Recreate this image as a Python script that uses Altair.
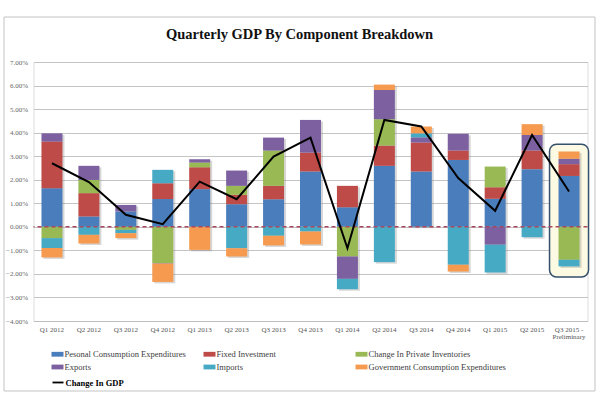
import altair as alt
import pandas as pd

# ---------------- data ----------------
categories = ["Q1 2012", "Q2 2012", "Q3 2012", "Q4 2012", "Q1 2013", "Q2 2013",
              "Q3 2013", "Q4 2013", "Q1 2014", "Q2 2014", "Q3 2014", "Q4 2014",
              "Q1 2015", "Q2 2015", "Q3 2015 - Preliminary"]
components = ["Pesonal Consumption Expenditures", "Fixed Investment",
              "Change In Private Inventories", "Exports", "Imports",
              "Government Consumption Expenditures"]
colors = ["#4A7DBB", "#BE4B48", "#98B954", "#7D60A0", "#46AAC5", "#F59A4E"]

pce         = [1.64, 0.44, 0.65, 1.18, 1.60, 0.96, 1.17, 2.35, 0.83, 2.59, 2.35, 2.84, 1.19, 2.45, 2.16]
fixed_inv   = [1.98, 0.99, 0.00, 0.67, 0.93, 0.40, 0.57, 0.80, 0.91, 0.86, 1.23, 0.40, 0.49, 0.79, 0.50]
inventories = [-0.48, 0.56, -0.13, -1.54, 0.20, 0.38, 1.50, 0.00, -1.26, 1.12, 0.00, 0.00, 0.88, 0.00, -1.40]
exports     = [0.35, 0.60, 0.28, -0.02, 0.14, 0.65, 0.55, 1.39, -0.95, 1.24, 0.22, 0.71, -0.76, 0.66, 0.23]
imports     = [-0.42, -0.34, -0.14, 0.57, 0.00, -0.91, -0.38, -0.20, -0.44, -1.50, 0.17, -1.61, -1.18, -0.44, -0.28]
government  = [-0.40, -0.37, -0.21, -0.78, -0.98, -0.35, -0.41, -0.55, 0.00, 0.23, 0.29, -0.29, 0.00, 0.46, 0.31]
gdp_change  = [2.70, 1.90, 0.51, 0.11, 1.92, 1.17, 2.98, 3.79, -0.91, 4.54, 4.26, 2.07, 0.68, 3.90, 1.50]

y_ticks = [-4, -3, -2, -1, 0, 1, 2, 3, 4, 5, 6, 7]
highlight_quarter = ["Q3 2015 - Preliminary"]
highlight_top = [3.51]
highlight_bottom = [-2.13]
line_series = "Change In GDP"
title_text = "Quarterly GDP By Component Breakdown"

# ---------------- tables ----------------
rows = []
for idx, vals in enumerate([pce, fixed_inv, inventories, exports, imports, government]):
    for q, v in zip(categories, vals):
        rows.append({"quarter": q, "component": components[idx], "order": idx, "value": v})
bars_df = pd.DataFrame(rows)
gdp_df = pd.DataFrame({"quarter": categories, "gdp": gdp_change, "series": [line_series] * len(categories)})
box_df = pd.DataFrame({"quarter": highlight_quarter, "top": highlight_top, "bottom": highlight_bottom})
zero_df = pd.DataFrame({"zero": [0]})
frame_df = pd.DataFrame({"f": [0]})

SERIF = "Liberation Serif"

x_scale = alt.Scale(domain=categories, paddingInner=0, paddingOuter=0)
y_scale = alt.Scale(domain=[-4, 7], nice=False, zero=False)

x_axis = alt.Axis(title=None, labelAngle=0, ticks=False, domain=True,
                  domainColor="#bdbdbd", labelFont=SERIF, labelFontSize=7,
                  labelColor="#555555", labelPadding=4, labelLineHeight=7,
                  labelOverlap=False, grid=False,
                  labelExpr="split(replace(datum.value, '- P', '-|P'), '|')")
y_axis = alt.Axis(title=None, values=y_ticks, tickCount=12, grid=True, gridColor="#c4c4c4",
                  domain=False, ticks=False, labelFont=SERIF, labelFontSize=7,
                  labelColor="#666666", labelPadding=6, labelOverlap=False,
                  labelExpr="format(datum.value, '.2f') + '%'")


def xq():
    return alt.X("quarter:N", sort=categories, scale=x_scale, axis=x_axis)


frame = alt.Chart(frame_df).mark_rect(fillOpacity=0, stroke="#c3c3c3", strokeWidth=1).encode(
    x=alt.value(-29.5), x2=alt.value(561.5), y=alt.value(-45), y2=alt.value(329))

box = alt.Chart(box_df).mark_bar(width=39, cornerRadius=7, fill="#fcfae2",
                                 stroke="#34506c", strokeWidth=1.5).encode(
    x=xq(),
    y=alt.Y("top:Q", scale=y_scale, axis=y_axis),
    y2="bottom:Q")

shadow = alt.Chart(bars_df).mark_bar(width=21, fill="#7a7a7a", opacity=0.3,
                                     xOffset=2, yOffset=1.5, y2Offset=1.5).encode(
    x=xq(),
    y=alt.Y("value:Q", stack="zero", scale=y_scale, axis=y_axis),
    detail="component:N",
    order=alt.Order("order:Q"))

bars = alt.Chart(bars_df).mark_bar(width=21).encode(
    x=xq(),
    y=alt.Y("value:Q", stack="zero", scale=y_scale, axis=y_axis),
    color=alt.Color("component:N", scale=alt.Scale(domain=components, range=colors),
                    legend=alt.Legend(title=None, orient="none", legendX=18, legendY=286,
                                      direction="horizontal",
                                      columns=3, gridAlign="all", columnPadding=1,
                                      rowPadding=2, padding=0,
                                      symbolType="M-1,-0.4L1,-0.4L1,0.4L-1,0.4Z",
                                      symbolSize=144, symbolStrokeWidth=0,
                                      labelFont=SERIF, labelFontSize=8.5,
                                      labelColor="#404040", labelOffset=1, labelLimit=400)),
    order=alt.Order("order:Q"))

zero_rule = alt.Chart(zero_df).mark_rule(stroke="#a8475f", strokeDash=[4, 3], strokeWidth=1.5).encode(
    y=alt.Y("zero:Q", scale=y_scale, axis=y_axis))

line = alt.Chart(gdp_df).mark_line(strokeWidth=2).encode(
    x=xq(),
    y=alt.Y("gdp:Q", scale=y_scale, axis=y_axis),
    stroke=alt.Stroke("series:N", scale=alt.Scale(domain=[line_series], range=["#000000"]),
                      legend=alt.Legend(title=None, orient="none", legendX=18, legendY=314,
                                        padding=0, symbolType="stroke", symbolSize=121,
                                        symbolStrokeWidth=1.8, labelFont=SERIF,
                                        labelFontSize=8.5, labelFontWeight="bold",
                                        labelColor="#000000", labelOffset=1)))

chart = alt.layer(frame, box, shadow, bars, zero_rule, line).resolve_scale(
    color="independent", stroke="independent"
).properties(
    width=554, height=259,
    title=alt.Title(title_text, font=SERIF, fontSize=14.5, fontWeight="bold",
                    color="#111111", anchor="middle", frame="group", dx=-11,
                    baseline="alphabetic", offset=-36.5),
    autosize=alt.AutoSizeParams(type="none"),
    padding={"left": 33.5, "top": 62, "right": 12.5, "bottom": 88},
).configure_view(stroke=None).configure(background="white")

chart.save("out.html", embed_options={"renderer": "svg", "actions": False})
